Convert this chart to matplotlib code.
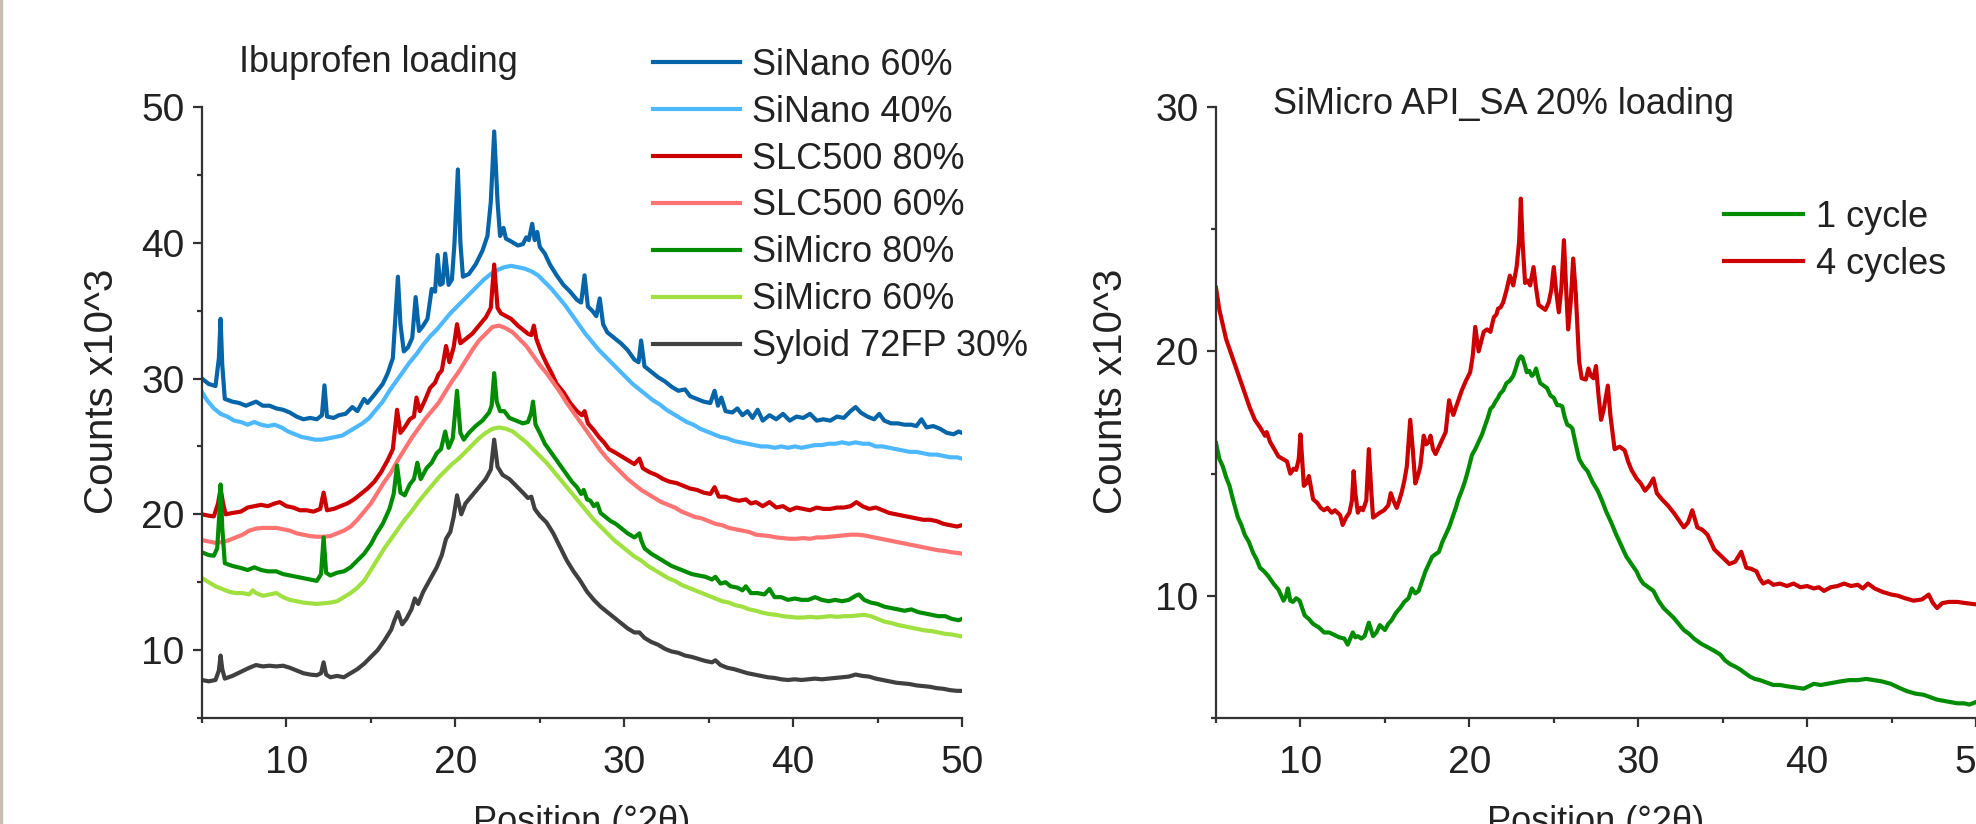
import numpy as np
import matplotlib
matplotlib.use('Agg')
import matplotlib.pyplot as plt
from matplotlib.ticker import MultipleLocator
from matplotlib.patches import Rectangle


# ============================================
# DATA (counts x10^3)
# ============================================
left_labels = ['SiNano 60%', 'SiNano 40%', 'SLC500 80%', 'SLC500 60%',
               'SiMicro 80%', 'SiMicro 60%', 'Syloid 72FP 30%']
left_colors = ['#0565a8', '#4db8ff', '#cc0000', '#ff7373',
               '#008c00', '#a0e040', '#404040']

sinano60 = [(5.0, 30.0), (5.4, 29.6), (5.8, 29.45), (6.0, 31.5), (6.1, 34.4), (6.2, 31.0),
            (6.35, 28.5), (6.8, 28.3), (7.2, 28.2), (7.6, 28.0), (8.0, 28.2), (8.2, 28.3),
            (8.6, 28.0), (9.0, 28.0), (9.4, 27.8), (9.8, 27.7), (10.2, 27.5), (10.6, 27.2),
            (11.0, 27.0), (11.4, 27.1), (11.8, 27.0), (12.1, 27.3), (12.25, 29.5), (12.4, 27.2),
            (12.8, 27.1), (13.1, 27.3), (13.5, 27.4), (13.9, 27.9), (14.2, 27.6), (14.6, 28.5),
            (14.8, 28.2), (15.2, 28.8), (15.7, 29.6), (16.0, 30.4), (16.3, 31.5), (16.45, 34.5),
            (16.6, 37.5), (16.75, 34.0), (16.95, 32.0), (17.2, 32.3), (17.45, 33.0), (17.65, 36.0),
            (17.85, 33.5), (18.1, 33.9), (18.35, 34.4), (18.6, 36.6), (18.8, 36.4), (18.95, 39.1),
            (19.1, 36.9), (19.25, 37.0), (19.4, 39.2), (19.6, 36.9), (19.8, 37.3), (19.95, 40.0),
            (20.15, 45.4), (20.3, 40.0), (20.45, 37.5), (20.8, 37.7), (21.2, 38.4), (21.6, 39.4),
            (21.9, 40.5), (22.1, 43.0), (22.3, 48.2), (22.5, 43.0), (22.65, 40.5), (22.85, 41.1),
            (23.0, 40.3), (23.3, 40.1), (23.7, 39.8), (24.0, 39.9), (24.2, 40.4), (24.35, 40.2),
            (24.55, 41.4), (24.7, 40.2), (24.85, 40.8), (25.0, 39.7), (25.3, 39.2), (25.6, 38.4),
            (26.0, 37.6), (26.4, 36.9), (26.8, 36.4), (27.2, 35.8), (27.45, 35.6), (27.65, 37.6),
            (27.85, 35.3), (28.1, 35.0), (28.35, 34.6), (28.55, 35.9), (28.75, 34.0), (29.0, 33.4),
            (29.4, 33.0), (29.8, 32.6), (30.2, 32.1), (30.6, 31.4), (30.85, 31.2), (31.0, 32.8),
            (31.2, 30.9), (31.6, 30.5), (32.0, 30.1), (32.4, 29.8), (32.8, 29.4), (33.2, 29.1),
            (33.6, 29.2), (33.9, 28.7), (34.3, 28.5), (34.7, 28.3), (35.1, 28.2), (35.35, 29.1),
            (35.55, 28.0), (35.75, 28.6), (36.0, 27.6), (36.4, 27.5), (36.7, 27.8), (37.0, 27.3),
            (37.3, 27.6), (37.6, 27.1), (37.9, 27.7), (38.2, 26.9), (38.6, 27.3), (39.0, 27.0),
            (39.4, 27.4), (39.8, 26.9), (40.2, 27.2), (40.6, 27.1), (41.0, 27.4), (41.4, 26.9),
            (41.8, 27.0), (42.2, 26.9), (42.6, 27.2), (43.0, 27.1), (43.4, 27.6), (43.7, 27.9),
            (44.0, 27.5), (44.4, 27.2), (44.8, 27.0), (45.1, 27.4), (45.4, 26.9), (45.8, 26.7),
            (46.2, 26.7), (46.6, 26.6), (47.0, 26.6), (47.3, 26.5), (47.6, 27.0), (47.9, 26.4),
            (48.3, 26.5), (48.7, 26.3), (49.1, 26.0), (49.5, 25.9), (49.8, 26.1), (50.0, 26.0)]

sinano40 = [(5.0, 29.0), (5.3, 28.4), (5.7, 27.8), (6.1, 27.4), (6.5, 27.2), (6.9, 26.9),
            (7.3, 26.8), (7.7, 26.6), (8.1, 26.8), (8.5, 26.6), (8.9, 26.5), (9.3, 26.6),
            (9.7, 26.4), (10.1, 26.1), (10.5, 25.9), (10.9, 25.7), (11.3, 25.6), (11.7, 25.5),
            (12.1, 25.5), (12.5, 25.6), (12.9, 25.7), (13.3, 25.8), (13.7, 26.1), (14.1, 26.4),
            (14.5, 26.7), (14.9, 27.1), (15.3, 27.7), (15.7, 28.3), (16.1, 29.1), (16.5, 29.8),
            (16.9, 30.5), (17.3, 31.2), (17.7, 31.8), (18.1, 32.5), (18.5, 33.1), (18.9, 33.6),
            (19.3, 34.2), (19.7, 34.8), (20.1, 35.3), (20.5, 35.8), (20.9, 36.3), (21.3, 36.8),
            (21.7, 37.3), (22.1, 37.7), (22.5, 38.0), (22.9, 38.2), (23.3, 38.3), (23.7, 38.2),
            (24.1, 38.1), (24.5, 37.9), (24.9, 37.6), (25.3, 37.1), (25.7, 36.6), (26.1, 36.0),
            (26.5, 35.4), (26.9, 34.7), (27.3, 34.0), (27.7, 33.3), (28.1, 32.7), (28.5, 32.1),
            (28.9, 31.6), (29.3, 31.1), (29.7, 30.6), (30.1, 30.1), (30.5, 29.6), (30.9, 29.2),
            (31.3, 28.8), (31.7, 28.4), (32.1, 28.1), (32.5, 27.7), (32.9, 27.4), (33.3, 27.1),
            (33.7, 26.8), (34.1, 26.6), (34.5, 26.3), (34.9, 26.1), (35.3, 25.9), (35.7, 25.7),
            (36.1, 25.6), (36.5, 25.4), (36.9, 25.3), (37.3, 25.2), (37.7, 25.1), (38.1, 25.0),
            (38.5, 25.0), (38.9, 24.9), (39.3, 25.0), (39.7, 24.9), (40.1, 25.0), (40.5, 24.9),
            (40.9, 25.0), (41.3, 25.1), (41.7, 25.1), (42.1, 25.2), (42.5, 25.2), (42.9, 25.3),
            (43.3, 25.2), (43.7, 25.3), (44.1, 25.2), (44.5, 25.2), (44.9, 25.0), (45.3, 25.0),
            (45.7, 24.9), (46.1, 24.8), (46.5, 24.7), (46.9, 24.6), (47.3, 24.6), (47.7, 24.5),
            (48.1, 24.4), (48.5, 24.4), (48.9, 24.3), (49.3, 24.2), (49.7, 24.2), (50.0, 24.1)]

slc80 = [(5.0, 20.0), (5.4, 19.9), (5.7, 19.85), (5.95, 20.8), (6.1, 21.9), (6.25, 20.8),
         (6.4, 20.0), (6.8, 20.1), (7.3, 20.2), (7.7, 20.5), (8.1, 20.6), (8.5, 20.7),
         (8.9, 20.6), (9.3, 20.8), (9.6, 20.9), (10.0, 20.6), (10.4, 20.5), (10.8, 20.3),
         (11.2, 20.3), (11.6, 20.2), (12.0, 20.4), (12.2, 21.6), (12.4, 20.3), (12.8, 20.4),
         (13.2, 20.6), (13.6, 20.8), (14.0, 21.1), (14.4, 21.5), (14.8, 21.9), (15.2, 22.4),
         (15.6, 23.1), (16.0, 24.0), (16.3, 24.8), (16.55, 27.7), (16.75, 26.0), (17.0, 26.4),
         (17.3, 27.0), (17.55, 27.2), (17.7, 28.6), (17.9, 27.6), (18.2, 28.4), (18.5, 29.3),
         (18.8, 29.7), (19.0, 30.3), (19.2, 30.6), (19.45, 32.4), (19.65, 31.2), (19.9, 32.3),
         (20.1, 34.0), (20.3, 32.6), (20.6, 32.9), (21.0, 33.3), (21.4, 33.9), (21.8, 34.5),
         (22.1, 35.2), (22.3, 38.4), (22.5, 35.2), (22.7, 34.8), (23.0, 34.6), (23.3, 34.4),
         (23.7, 33.9), (24.0, 33.6), (24.3, 33.3), (24.5, 33.2), (24.65, 33.9), (24.8, 32.9),
         (25.1, 31.9), (25.4, 31.1), (25.7, 30.4), (26.0, 29.6), (26.4, 29.0), (26.8, 28.2),
         (27.2, 27.6), (27.5, 27.3), (27.65, 27.6), (27.85, 26.7), (28.2, 26.2), (28.5, 25.7),
         (28.8, 25.3), (29.1, 24.8), (29.4, 24.6), (29.8, 24.3), (30.2, 24.0), (30.6, 23.7),
         (30.9, 24.1), (31.1, 23.4), (31.5, 23.1), (31.9, 22.9), (32.3, 22.6), (32.7, 22.4),
         (33.1, 22.3), (33.5, 22.1), (33.9, 21.9), (34.3, 21.8), (34.7, 21.6), (35.1, 21.5),
         (35.35, 22.0), (35.6, 21.3), (36.0, 21.3), (36.4, 21.1), (36.8, 21.0), (37.2, 21.1),
         (37.5, 20.8), (37.8, 20.9), (38.2, 20.6), (38.6, 20.9), (39.0, 20.5), (39.4, 20.6),
         (39.8, 20.3), (40.2, 20.5), (40.6, 20.4), (41.0, 20.3), (41.4, 20.5), (41.8, 20.4),
         (42.2, 20.4), (42.6, 20.5), (43.0, 20.5), (43.4, 20.6), (43.75, 20.9), (44.1, 20.6),
         (44.5, 20.4), (44.9, 20.5), (45.3, 20.3), (45.7, 20.1), (46.1, 20.0), (46.5, 19.9),
         (46.9, 19.8), (47.3, 19.7), (47.7, 19.6), (48.1, 19.6), (48.5, 19.5), (48.9, 19.3),
         (49.3, 19.2), (49.7, 19.1), (50.0, 19.2)]

slc60 = [(5.0, 18.1), (5.4, 18.0), (5.8, 17.9), (6.2, 17.95), (6.6, 18.1), (7.0, 18.3),
         (7.4, 18.5), (7.8, 18.8), (8.2, 18.95), (8.6, 19.0), (9.0, 19.0), (9.4, 19.0),
         (9.8, 18.9), (10.2, 18.8), (10.6, 18.6), (11.0, 18.5), (11.4, 18.4), (11.8, 18.35),
         (12.2, 18.35), (12.6, 18.4), (13.0, 18.6), (13.4, 18.8), (13.8, 19.1), (14.2, 19.6),
         (14.6, 20.2), (15.0, 20.8), (15.4, 21.6), (15.8, 22.4), (16.2, 23.1), (16.6, 24.0),
         (17.0, 24.8), (17.4, 25.6), (17.8, 26.3), (18.2, 27.0), (18.6, 27.6), (19.0, 28.2),
         (19.4, 29.0), (19.8, 29.8), (20.2, 30.5), (20.6, 31.3), (21.0, 32.1), (21.4, 32.8),
         (21.8, 33.3), (22.2, 33.8), (22.6, 33.9), (23.0, 33.7), (23.4, 33.4), (23.8, 32.9),
         (24.2, 32.4), (24.6, 31.7), (25.0, 31.0), (25.4, 30.4), (25.8, 29.7), (26.2, 29.0),
         (26.6, 28.2), (27.0, 27.5), (27.4, 26.8), (27.8, 26.1), (28.2, 25.4), (28.6, 24.7),
         (29.0, 24.1), (29.4, 23.6), (29.8, 23.1), (30.2, 22.6), (30.6, 22.2), (31.0, 21.8),
         (31.4, 21.5), (31.8, 21.2), (32.2, 20.9), (32.6, 20.7), (33.0, 20.5), (33.4, 20.2),
         (33.8, 20.0), (34.2, 19.8), (34.6, 19.7), (35.0, 19.5), (35.4, 19.3), (35.8, 19.2),
         (36.2, 19.0), (36.6, 18.9), (37.0, 18.8), (37.4, 18.7), (37.8, 18.5), (38.2, 18.45),
         (38.6, 18.4), (39.0, 18.3), (39.4, 18.25), (39.8, 18.2), (40.2, 18.2), (40.6, 18.25),
         (41.0, 18.2), (41.4, 18.3), (41.8, 18.3), (42.2, 18.35), (42.6, 18.4), (43.0, 18.45),
         (43.4, 18.5), (43.8, 18.5), (44.2, 18.45), (44.6, 18.35), (45.0, 18.25), (45.4, 18.15),
         (45.8, 18.05), (46.2, 17.95), (46.6, 17.85), (47.0, 17.75), (47.4, 17.65), (47.8, 17.55),
         (48.2, 17.45), (48.6, 17.35), (49.0, 17.3), (49.4, 17.2), (49.8, 17.15), (50.0, 17.1)]

simicro80 = [(5.0, 17.2), (5.4, 17.0), (5.7, 16.95), (5.9, 17.5), (6.05, 20.5), (6.1, 22.2),
             (6.2, 19.0), (6.35, 16.4), (6.8, 16.2), (7.3, 16.05), (7.7, 15.9), (8.1, 16.1),
             (8.5, 15.9), (8.9, 15.8), (9.4, 15.8), (9.8, 15.6), (10.2, 15.5), (10.6, 15.4),
             (11.0, 15.3), (11.4, 15.2), (11.8, 15.1), (12.05, 15.6), (12.2, 18.3), (12.35, 15.7),
             (12.6, 15.5), (13.0, 15.7), (13.4, 15.8), (13.8, 16.1), (14.2, 16.6), (14.6, 17.1),
             (15.0, 17.8), (15.3, 18.5), (15.7, 19.3), (16.1, 20.4), (16.35, 21.5), (16.55, 23.6),
             (16.75, 21.6), (17.0, 21.4), (17.3, 22.2), (17.55, 22.6), (17.75, 23.8), (17.95, 22.6),
             (18.3, 23.4), (18.6, 23.8), (18.9, 24.5), (19.15, 24.8), (19.4, 26.1), (19.6, 24.9),
             (19.85, 25.6), (20.1, 29.1), (20.3, 26.0), (20.5, 25.5), (20.8, 26.0), (21.2, 26.5),
             (21.6, 26.9), (22.0, 27.5), (22.15, 28.0), (22.3, 30.4), (22.45, 28.3), (22.65, 27.6),
             (22.9, 27.6), (23.2, 27.1), (23.6, 26.9), (24.0, 26.7), (24.3, 26.8), (24.5, 27.5),
             (24.6, 28.3), (24.75, 26.6), (25.0, 26.0), (25.3, 25.2), (25.7, 24.5), (26.1, 23.8),
             (26.5, 23.1), (26.9, 22.4), (27.2, 22.0), (27.45, 21.5), (27.6, 21.8), (27.8, 21.1),
             (28.0, 21.0), (28.2, 20.6), (28.4, 20.8), (28.6, 20.1), (28.9, 19.8), (29.2, 19.5),
             (29.5, 19.3), (29.8, 19.0), (30.2, 18.6), (30.6, 18.3), (30.9, 18.6), (31.0, 18.1),
             (31.2, 17.5), (31.6, 17.1), (32.0, 16.8), (32.4, 16.5), (32.8, 16.2), (33.2, 16.0),
             (33.6, 15.8), (34.0, 15.6), (34.4, 15.5), (34.8, 15.4), (35.2, 15.2), (35.4, 15.4),
             (35.7, 14.9), (36.0, 15.0), (36.3, 14.7), (36.7, 14.6), (37.0, 14.4), (37.2, 14.7),
             (37.5, 14.2), (37.9, 14.2), (38.3, 14.1), (38.6, 14.5), (38.9, 13.9), (39.3, 13.9),
             (39.7, 13.7), (40.1, 13.8), (40.5, 13.7), (40.9, 13.7), (41.3, 13.9), (41.7, 13.7),
             (42.1, 13.6), (42.5, 13.7), (42.9, 13.6), (43.3, 13.7), (43.7, 14.0), (43.9, 14.1),
             (44.2, 13.7), (44.6, 13.5), (45.0, 13.4), (45.4, 13.2), (45.8, 13.1), (46.2, 13.0),
             (46.6, 12.9), (47.0, 13.0), (47.4, 12.8), (47.8, 12.7), (48.2, 12.6), (48.6, 12.5),
             (49.0, 12.5), (49.4, 12.3), (49.8, 12.2), (50.0, 12.3)]

simicro60 = [(5.0, 15.3), (5.4, 15.0), (5.8, 14.7), (6.2, 14.5), (6.6, 14.3), (7.0, 14.2),
             (7.4, 14.2), (7.8, 14.1), (8.0, 14.4), (8.2, 14.2), (8.6, 14.0), (9.0, 14.1),
             (9.4, 14.2), (9.8, 13.9), (10.2, 13.7), (10.6, 13.6), (11.0, 13.5), (11.4, 13.45),
             (11.8, 13.4), (12.2, 13.45), (12.6, 13.5), (13.0, 13.6), (13.4, 13.9), (13.8, 14.2),
             (14.2, 14.6), (14.6, 15.1), (15.0, 15.9), (15.4, 16.7), (15.8, 17.5), (16.2, 18.2),
             (16.6, 18.9), (17.0, 19.6), (17.4, 20.2), (17.8, 20.9), (18.2, 21.5), (18.6, 22.1),
             (19.0, 22.7), (19.4, 23.2), (19.8, 23.7), (20.2, 24.1), (20.6, 24.6), (21.0, 25.1),
             (21.4, 25.6), (21.8, 26.0), (22.2, 26.3), (22.6, 26.4), (23.0, 26.3), (23.4, 26.1),
             (23.8, 25.7), (24.2, 25.3), (24.6, 24.8), (25.0, 24.3), (25.4, 23.8), (25.8, 23.2),
             (26.2, 22.6), (26.6, 22.0), (27.0, 21.4), (27.4, 20.8), (27.8, 20.2), (28.2, 19.6),
             (28.6, 19.1), (29.0, 18.6), (29.4, 18.1), (29.8, 17.7), (30.2, 17.3), (30.6, 16.9),
             (31.0, 16.6), (31.4, 16.2), (31.8, 15.9), (32.2, 15.6), (32.6, 15.3), (33.0, 15.1),
             (33.4, 14.8), (33.8, 14.6), (34.2, 14.4), (34.6, 14.2), (35.0, 14.0), (35.4, 13.8),
             (35.8, 13.6), (36.2, 13.5), (36.6, 13.3), (37.0, 13.2), (37.4, 13.0), (37.8, 12.9),
             (38.2, 12.75), (38.6, 12.65), (39.0, 12.6), (39.4, 12.5), (39.8, 12.45), (40.2, 12.4),
             (40.6, 12.4), (41.0, 12.45), (41.4, 12.4), (41.8, 12.45), (42.2, 12.5), (42.6, 12.45),
             (43.0, 12.5), (43.4, 12.5), (43.8, 12.55), (44.2, 12.6), (44.6, 12.5), (45.0, 12.3),
             (45.4, 12.1), (45.8, 12.0), (46.2, 11.85), (46.6, 11.75), (47.0, 11.65), (47.4, 11.55),
             (47.8, 11.45), (48.2, 11.4), (48.6, 11.3), (49.0, 11.2), (49.4, 11.15), (49.8, 11.05),
             (50.0, 11.0)]

syloid30 = [(5.0, 7.8), (5.4, 7.7), (5.8, 7.8), (6.0, 8.5), (6.1, 9.6), (6.2, 8.6),
            (6.35, 7.9), (6.8, 8.1), (7.3, 8.4), (7.8, 8.7), (8.2, 8.9), (8.6, 8.8),
            (9.0, 8.85), (9.4, 8.8), (9.8, 8.85), (10.2, 8.7), (10.6, 8.5), (11.0, 8.3),
            (11.4, 8.2), (11.8, 8.15), (12.05, 8.3), (12.2, 9.1), (12.35, 8.2), (12.6, 8.0),
            (13.0, 8.1), (13.4, 8.0), (13.8, 8.3), (14.2, 8.6), (14.6, 9.0), (15.0, 9.5),
            (15.4, 10.0), (15.8, 10.7), (16.2, 11.5), (16.4, 12.2), (16.6, 12.8), (16.85, 11.9),
            (17.1, 12.3), (17.4, 13.0), (17.6, 13.8), (17.8, 13.4), (18.1, 14.3), (18.5, 15.2),
            (18.9, 16.1), (19.2, 17.0), (19.45, 18.2), (19.7, 18.7), (19.9, 19.8), (20.1, 21.4),
            (20.35, 20.0), (20.6, 20.8), (21.0, 21.4), (21.4, 22.0), (21.8, 22.6), (22.1, 23.3),
            (22.3, 25.5), (22.5, 23.5), (22.8, 22.9), (23.2, 22.6), (23.6, 22.1), (24.0, 21.6),
            (24.3, 21.2), (24.5, 21.3), (24.7, 20.4), (25.0, 19.9), (25.4, 19.4), (25.8, 18.6),
            (26.2, 17.6), (26.6, 16.6), (27.0, 15.8), (27.4, 15.1), (27.8, 14.3), (28.2, 13.7),
            (28.6, 13.2), (29.0, 12.8), (29.4, 12.4), (29.8, 12.0), (30.2, 11.6), (30.6, 11.3),
            (30.9, 11.3), (31.2, 10.9), (31.6, 10.6), (32.0, 10.4), (32.4, 10.1), (32.8, 9.9),
            (33.2, 9.8), (33.6, 9.6), (34.0, 9.5), (34.4, 9.35), (34.8, 9.2), (35.2, 9.1),
            (35.4, 9.25), (35.7, 8.9), (36.1, 8.7), (36.5, 8.6), (36.9, 8.45), (37.3, 8.3),
            (37.7, 8.2), (38.1, 8.1), (38.5, 8.0), (38.9, 7.95), (39.3, 7.85), (39.7, 7.8),
            (40.1, 7.85), (40.5, 7.8), (40.9, 7.85), (41.3, 7.9), (41.7, 7.85), (42.1, 7.9),
            (42.5, 7.95), (42.9, 8.0), (43.3, 8.05), (43.7, 8.2), (44.1, 8.1), (44.5, 8.05),
            (44.9, 7.9), (45.3, 7.8), (45.7, 7.7), (46.1, 7.6), (46.5, 7.55), (46.9, 7.5),
            (47.3, 7.4), (47.7, 7.35), (48.1, 7.3), (48.5, 7.2), (48.9, 7.15), (49.3, 7.05),
            (49.7, 7.0), (50.0, 7.0)]

right_labels = ['1 cycle', '4 cycles']
right_colors = ['#008c00', '#cc0000']

cycle1 = [(5.0, 16.25), (5.2, 15.6), (5.4, 15.3), (5.6, 14.85), (5.8, 14.5), (6.0, 13.95),
          (6.3, 13.2), (6.5, 12.9), (6.7, 12.5), (6.95, 12.2), (7.2, 11.75), (7.4, 11.5),
          (7.6, 11.15), (7.85, 11.0), (8.1, 10.8), (8.4, 10.5), (8.7, 10.25), (9.0, 9.8),
          (9.15, 10.0), (9.25, 10.3), (9.4, 9.8), (9.55, 9.75), (9.75, 9.9), (9.95, 9.8),
          (10.25, 9.2), (10.5, 9.05), (10.75, 8.85), (11.1, 8.7), (11.4, 8.5), (11.7, 8.5),
          (12.0, 8.4), (12.3, 8.3), (12.6, 8.25), (12.8, 8.0), (13.1, 8.5), (13.25, 8.3),
          (13.4, 8.35), (13.6, 8.25), (13.8, 8.35), (14.05, 8.9), (14.3, 8.35), (14.5, 8.5),
          (14.7, 8.8), (15.0, 8.6), (15.2, 8.85), (15.4, 9.0), (15.65, 9.3), (15.9, 9.5),
          (16.15, 9.75), (16.4, 9.9), (16.6, 10.3), (16.8, 10.1), (17.0, 10.2), (17.2, 10.6),
          (17.4, 11.0), (17.6, 11.3), (17.8, 11.6), (18.0, 11.7), (18.2, 11.8), (18.4, 12.2),
          (18.6, 12.5), (18.8, 12.8), (19.0, 13.2), (19.2, 13.6), (19.35, 13.95), (19.55, 14.3),
          (19.75, 14.7), (19.95, 15.2), (20.15, 15.75), (20.35, 16.0), (20.55, 16.3), (20.75, 16.6),
          (20.9, 16.9), (21.1, 17.3), (21.25, 17.65), (21.4, 17.75), (21.55, 17.95), (21.7, 18.1),
          (21.8, 18.25), (22.0, 18.4), (22.2, 18.7), (22.4, 18.8), (22.6, 19.0), (22.75, 19.3),
          (22.9, 19.65), (23.05, 19.8), (23.15, 19.75), (23.3, 19.4), (23.4, 19.15), (23.55, 19.2),
          (23.7, 19.0), (23.85, 19.1), (23.95, 19.3), (24.1, 18.9), (24.2, 18.7), (24.4, 18.6),
          (24.6, 18.5), (24.8, 18.2), (25.0, 18.1), (25.2, 17.8), (25.35, 17.8), (25.5, 17.75),
          (25.65, 17.3), (25.8, 17.0), (25.95, 16.95), (26.1, 16.85), (26.3, 16.2), (26.5, 15.6),
          (26.75, 15.3), (27.0, 15.1), (27.3, 14.65), (27.6, 14.3), (27.85, 13.9), (28.1, 13.45),
          (28.4, 13.0), (28.7, 12.5), (29.0, 12.05), (29.3, 11.6), (29.6, 11.3), (29.9, 11.0),
          (30.1, 10.7), (30.3, 10.5), (30.6, 10.35), (30.9, 10.2), (31.2, 9.8), (31.5, 9.5),
          (31.8, 9.3), (32.1, 9.1), (32.4, 8.85), (32.7, 8.6), (33.0, 8.45), (33.3, 8.25),
          (33.7, 8.05), (34.1, 7.9), (34.5, 7.75), (34.85, 7.6), (35.15, 7.35), (35.45, 7.2),
          (35.75, 7.1), (36.0, 7.0), (36.3, 6.85), (36.6, 6.7), (36.9, 6.6), (37.2, 6.55),
          (37.6, 6.45), (38.0, 6.35), (38.4, 6.35), (38.8, 6.3), (39.3, 6.25), (39.8, 6.2),
          (40.1, 6.3), (40.4, 6.4), (40.8, 6.35), (41.2, 6.4), (41.6, 6.45), (42.0, 6.5),
          (42.5, 6.55), (43.0, 6.55), (43.5, 6.6), (43.95, 6.55), (44.4, 6.5), (44.95, 6.4),
          (45.4, 6.25), (45.9, 6.1), (46.4, 6.0), (46.9, 5.95), (47.3, 5.85), (47.7, 5.75),
          (48.1, 5.7), (48.5, 5.65), (48.9, 5.6), (49.3, 5.6), (49.6, 5.55), (50.0, 5.65)]

cycle4 = [(5.0, 22.6), (5.2, 21.7), (5.4, 21.1), (5.6, 20.5), (5.9, 19.9), (6.2, 19.3),
          (6.5, 18.7), (6.75, 18.2), (7.0, 17.7), (7.3, 17.2), (7.6, 16.9), (7.9, 16.55),
          (8.0, 16.7), (8.2, 16.3), (8.45, 16.0), (8.7, 15.7), (8.95, 15.6), (9.2, 15.5),
          (9.4, 15.0), (9.6, 15.2), (9.75, 15.15), (9.9, 15.6), (10.0, 16.6), (10.1, 15.6),
          (10.2, 14.5), (10.35, 14.6), (10.5, 14.9), (10.75, 13.95), (11.0, 13.8), (11.2, 13.6),
          (11.4, 13.5), (11.6, 13.6), (11.85, 13.4), (12.05, 13.5), (12.2, 13.4), (12.35, 13.3),
          (12.5, 12.9), (12.7, 13.2), (12.9, 13.4), (13.05, 13.9), (13.15, 15.1), (13.25, 14.2),
          (13.4, 13.4), (13.55, 13.6), (13.7, 13.5), (13.9, 13.9), (14.05, 16.0), (14.2, 14.2),
          (14.3, 13.2), (14.5, 13.3), (14.7, 13.4), (14.95, 13.5), (15.2, 13.7), (15.35, 14.2),
          (15.5, 13.9), (15.7, 13.6), (15.85, 13.9), (16.0, 14.25), (16.15, 14.7), (16.3, 15.3),
          (16.5, 17.2), (16.65, 16.0), (16.8, 14.6), (16.95, 14.9), (17.1, 15.3), (17.3, 16.55),
          (17.45, 16.2), (17.6, 16.3), (17.7, 16.55), (17.85, 16.0), (18.0, 15.8), (18.2, 16.1),
          (18.4, 16.4), (18.6, 16.7), (18.8, 18.0), (18.95, 17.6), (19.05, 17.4), (19.3, 17.9),
          (19.55, 18.4), (19.8, 18.8), (20.05, 19.15), (20.2, 19.8), (20.35, 21.0), (20.45, 20.5),
          (20.55, 20.0), (20.7, 20.4), (20.85, 20.8), (21.05, 20.9), (21.25, 20.8), (21.45, 21.4),
          (21.6, 21.5), (21.7, 21.75), (21.85, 21.8), (22.0, 22.0), (22.2, 22.5), (22.4, 23.1),
          (22.6, 22.7), (22.8, 23.45), (22.95, 24.5), (23.05, 26.25), (23.15, 24.5), (23.3, 22.8),
          (23.45, 22.9), (23.6, 22.7), (23.8, 23.45), (23.95, 22.6), (24.1, 21.9), (24.3, 21.8),
          (24.5, 21.7), (24.7, 22.0), (24.85, 22.5), (25.0, 23.45), (25.15, 22.4), (25.3, 21.6),
          (25.45, 22.6), (25.6, 24.55), (25.75, 22.3), (25.85, 20.9), (26.0, 22.0), (26.15, 23.8),
          (26.3, 22.4), (26.4, 21.0), (26.5, 19.6), (26.65, 18.9), (26.9, 18.85), (27.05, 19.3),
          (27.2, 19.0), (27.35, 18.9), (27.5, 19.4), (27.65, 18.2), (27.8, 17.2), (27.95, 17.6),
          (28.2, 18.6), (28.35, 17.4), (28.6, 16.0), (28.9, 16.1), (29.2, 15.95), (29.4, 15.5),
          (29.6, 15.15), (29.9, 14.8), (30.15, 14.6), (30.4, 14.3), (30.65, 14.5), (30.9, 14.8),
          (31.1, 14.2), (31.4, 13.95), (31.75, 13.7), (32.1, 13.4), (32.4, 13.1), (32.7, 12.8),
          (32.95, 13.0), (33.2, 13.5), (33.5, 12.8), (33.8, 12.7), (34.1, 12.5), (34.3, 12.2),
          (34.5, 11.9), (34.8, 11.7), (35.1, 11.5), (35.4, 11.3), (35.75, 11.4), (36.1, 11.8),
          (36.4, 11.15), (36.7, 11.1), (37.0, 11.0), (37.2, 10.7), (37.4, 10.5), (37.7, 10.6),
          (38.0, 10.45), (38.4, 10.5), (38.8, 10.4), (39.2, 10.5), (39.6, 10.35), (40.0, 10.4),
          (40.4, 10.3), (40.7, 10.35), (41.0, 10.2), (41.4, 10.35), (41.8, 10.4), (42.2, 10.5),
          (42.6, 10.4), (43.0, 10.45), (43.3, 10.3), (43.6, 10.5), (44.0, 10.3), (44.5, 10.15),
          (45.0, 10.05), (45.4, 10.0), (45.8, 9.9), (46.3, 9.8), (46.8, 9.85), (47.2, 10.05),
          (47.45, 9.7), (47.7, 9.5), (48.0, 9.7), (48.4, 9.75), (48.9, 9.75), (49.4, 9.7),
          (50.0, 9.65)]

left_series  = [sinano60, sinano40, slc80, slc60, simicro80, simicro60, syloid30]
right_series = [cycle1, cycle4]


# ============================================
# STYLE
# ============================================
plt.rcParams['font.family'] = ['Liberation Sans', 'DejaVu Sans']
plt.rcParams['text.color'] = '#222222'
plt.rcParams['axes.labelcolor'] = '#222222'
plt.rcParams['xtick.color'] = '#333333'
plt.rcParams['ytick.color'] = '#333333'
plt.rcParams['xtick.labelcolor'] = '#222222'
plt.rcParams['ytick.labelcolor'] = '#222222'

FS = 26        # legend / titles / x label
TICK_FS = 28   # tick labels
YLAB_FS = 29   # y label
LW = 3.0

fig = plt.figure(figsize=(19.76, 8.24), dpi=100)
W, H = 1976.0, 824.0

# thin beige edge on the left of the picture
fig.patches.append(Rectangle((0, 0), 2 / W, 1, transform=fig.transFigure,
                             color='#c8bfb2', zorder=0))

ax1 = fig.add_axes([202 / W, 106 / H, 760 / W, 611 / H])
ax2 = fig.add_axes([1216 / W, 106 / H, 760 / W, 611 / H])


def style_axes(ax, ymax, ylabel_x):
    for side in ['top', 'right']:
        ax.spines[side].set_visible(False)
    for side in ['left', 'bottom']:
        ax.spines[side].set_linewidth(1.6)
        ax.spines[side].set_color('#333333')
    ax.set_xlim(5, 50)
    ax.set_ylim(5, ymax)
    ax.xaxis.set_major_locator(MultipleLocator(10))
    ax.xaxis.set_minor_locator(MultipleLocator(5))
    ax.yaxis.set_major_locator(MultipleLocator(10))
    ax.yaxis.set_minor_locator(MultipleLocator(5))
    ax.tick_params(which='major', direction='out', length=6.5, width=1.6, labelsize=TICK_FS)
    ax.tick_params(which='minor', direction='out', length=3.5, width=1.6)
    ax.tick_params(axis='x', which='major', pad=13)
    ax.tick_params(axis='y', which='major', pad=6)
    ax.set_xlabel('Position (°2θ)', fontsize=FS, labelpad=17)
    ax.set_ylabel('Counts x10^3', fontsize=YLAB_FS)
    ax.yaxis.set_label_coords(ylabel_x, 0.535)


style_axes(ax1, 50, -0.106)
style_axes(ax2, 30, -0.113)

for pts, lbl, col in zip(left_series, left_labels, left_colors):
    x, y = np.array(pts).T
    ax1.plot(x, y, color=col, lw=LW, label=lbl, solid_joinstyle='round')

for pts, lbl, col in zip(right_series, right_labels, right_colors):
    x, y = np.array(pts).T
    ax2.plot(x, y, color=col, lw=LW, label=lbl, solid_joinstyle='round')

# titles inside the panels
fig.text(239 / W, 1 - 63 / H, 'Ibuprofen loading', fontsize=FS, va='center', ha='left')
fig.text(1273 / W, 1 - 105 / H, 'SiMicro API_SA 20% loading', fontsize=FS,
         va='center', ha='left')

leg_kw = dict(loc='upper left', frameon=False, fontsize=FS, borderpad=0,
              borderaxespad=0, handletextpad=0.35, labelspacing=0.33,
              bbox_transform=fig.transFigure)
ax1.legend(bbox_to_anchor=(653 / W, 1 - 47.7 / H), handlelength=2.4, **leg_kw)
ax2.legend(bbox_to_anchor=(1724 / W, 1 - 200 / H), handlelength=2.2, **leg_kw)

fig.savefig('out.png', dpi=100)
print("Saved: out.png")
